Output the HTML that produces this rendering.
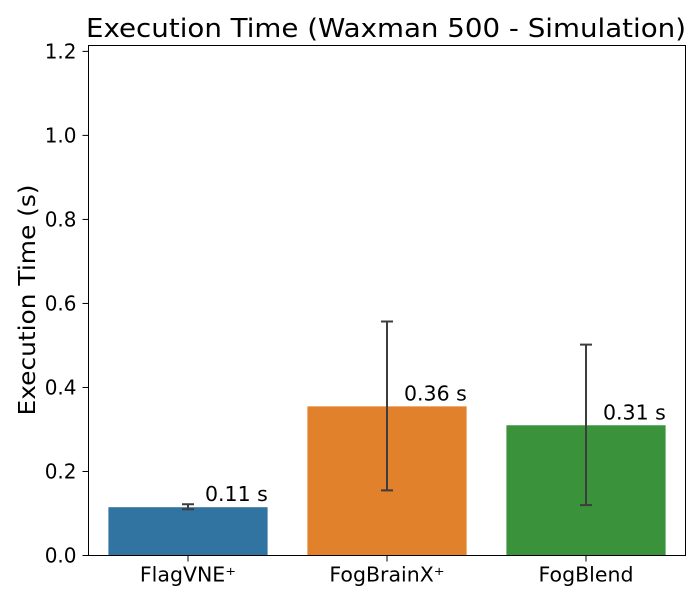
<!DOCTYPE html>
<html><head><meta charset="utf-8"><style>
body{margin:0;background:#fff}
text{font-family:"DejaVu Sans","Liberation Sans",sans-serif;fill:#000}
</style></head><body>
<svg id="chart" width="700" height="600" viewBox="0 0 700 600" xmlns="http://www.w3.org/2000/svg">
<text x="386" y="37" font-size="26" text-anchor="middle" textLength="600" lengthAdjust="spacingAndGlyphs">Execution Time (Waxman 500 - Simulation)</text>
<text transform="translate(35,300) rotate(-90)" font-size="23" text-anchor="middle" textLength="231" lengthAdjust="spacingAndGlyphs">Execution Time (s)</text>
<g id="marks"></g>
<rect x="88.5" y="45.5" width="597" height="510" fill="none" stroke="#000" stroke-width="1"/>
</svg>
<script>
const categories = ["FlagVNE⁺", "FogBrainX⁺", "FogBlend"];
const values = [0.115, 0.355, 0.31];
const errLow = [0.110, 0.155, 0.120];
const errHigh = [0.122, 0.557, 0.502];
const valueLabels = ["0.11 s", "0.36 s", "0.31 s"];
const yTicks = [0.0, 0.2, 0.4, 0.6, 0.8, 1.0, 1.2];
const colors = ["#3274a1", "#e1812c", "#3a923a"];

const L = 88.5, R = 685.5, T = 45.5, B = 555.5, yMax = 1.214;
const y = v => B - v / yMax * (B - T);
const band = (R - L) / categories.length;
const xc = i => L + band * (i + 0.5);
const NS = "http://www.w3.org/2000/svg";
const g = document.getElementById("marks");
function mk(tag, attrs) { const e = document.createElementNS(NS, tag); for (const k in attrs) e.setAttribute(k, attrs[k]); g.appendChild(e); return e; }

yTicks.forEach(t => {
  const tk = mk("line", {x1: L - 6, x2: L, y1: y(t), y2: y(t), stroke: "#000"});
  
  
  const lb = mk("text", {x: L - 12, y: y(t) + 7, "font-size": 20, "text-anchor": "end"});
  lb.textContent = t.toFixed(1);
  
  
});

categories.forEach((c, i) => {
  const w = band * 0.8;
  const bar = mk("rect", {x: xc(i) - w / 2, y: y(values[i]), width: w, height: B - y(values[i]), fill: colors[i]});
  
  
  const el = mk("line", {x1: xc(i), x2: xc(i), y1: y(errLow[i]), y2: y(errHigh[i]), stroke: "#3d3d3d", "stroke-width": 2});
  
  
  [errLow[i], errHigh[i]].forEach(v => {
    const cap = mk("line", {x1: xc(i) - 6, x2: xc(i) + 6, y1: y(v), y2: y(v), stroke: "#3d3d3d", "stroke-width": 2});
    
    
  });
  const vl = mk("text", {x: xc(i) + 17, y: y(values[i]) - 6, "font-size": 20.5});
  vl.textContent = valueLabels[i];
  
  
  const tk = mk("line", {x1: xc(i), x2: xc(i), y1: B, y2: B + 6, stroke: "#000"});
  
  
  const xl = mk("text", {x: xc(i), y: B + 26, "font-size": 20.5, "text-anchor": "middle"});
  xl.textContent = c;
  
  
});
</script>
</body></html>
